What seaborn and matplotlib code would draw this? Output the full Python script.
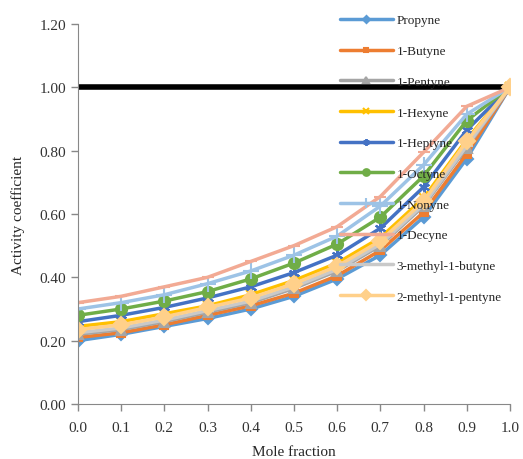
import pandas as pd
import matplotlib.pyplot as plt
import seaborn as sns

x = [0.0, 0.1, 0.2, 0.3, 0.4, 0.5, 0.6, 0.7, 0.8, 0.9, 1.0]
propyne = [0.20, 0.22, 0.245, 0.27, 0.30, 0.34, 0.395, 0.47, 0.59, 0.775, 1.0]
butyne = [0.21, 0.225, 0.25, 0.28, 0.31, 0.35, 0.405, 0.485, 0.605, 0.79, 1.0]
pentyne = [0.22, 0.235, 0.26, 0.29, 0.32, 0.365, 0.42, 0.50, 0.625, 0.81, 1.0]
hexyne = [0.245, 0.26, 0.285, 0.31, 0.345, 0.39, 0.445, 0.525, 0.65, 0.835, 1.0]
heptyne = [0.26, 0.28, 0.305, 0.335, 0.37, 0.415, 0.47, 0.555, 0.685, 0.865, 1.0]
octyne = [0.28, 0.30, 0.325, 0.355, 0.395, 0.445, 0.505, 0.59, 0.72, 0.895, 1.0]
nonyne = [0.30, 0.32, 0.345, 0.38, 0.42, 0.47, 0.53, 0.625, 0.755, 0.915, 1.0]
decyne = [0.32, 0.34, 0.37, 0.40, 0.45, 0.50, 0.56, 0.655, 0.795, 0.94, 1.0]
m3_butyne = [0.225, 0.24, 0.265, 0.295, 0.325, 0.37, 0.425, 0.505, 0.63, 0.815, 1.0]
m2_pentyne = [0.235, 0.25, 0.275, 0.305, 0.335, 0.38, 0.435, 0.515, 0.64, 0.83, 1.0]
ideal = [1.0] * 11

names = ['Propyne', '1-Butyne', '1-Pentyne', '1-Hexyne', '1-Heptyne', '1-Octyne',
         '1-Nonyne', '1-Decyne', '3-methyl-1-butyne', '2-methyl-1-pentyne']
values = [propyne, butyne, pentyne, hexyne, heptyne, octyne,
          nonyne, decyne, m3_butyne, m2_pentyne]
colors = ['#5B9BD5', '#ED7D31', '#A5A5A5', '#FFC000', '#4472C4', '#70AD47',
          '#9DC3E6', '#F2AA94', '#C9C9C9', '#FFD08A']
markers = ['D', 's', '^', 'x', (6, 2, 0), 'o', '+', '_', '_', 'D']
msizes = [6, 6, 7, 7, 8, 8, 11, 8, 8, 8]

sns.set_style('ticks')
plt.rcParams['font.family'] = ['Liberation Serif', 'DejaVu Serif']

fig = plt.figure(figsize=(5.23, 4.60), dpi=100)
ax = fig.add_axes([0.149, 0.1196, 0.826, 0.826])

sns.lineplot(x=x, y=ideal, color='black', lw=4, ax=ax, zorder=1)
for n, v, c, m, s in zip(names, values, colors, markers, msizes):
    df = pd.DataFrame({'x': x, 'y': v})
    sns.lineplot(data=df, x='x', y='y', color=c, marker=m, markersize=s,
                 markeredgecolor=c, markeredgewidth=1.5, lw=2.5, label=n, ax=ax)

ax.set_xlim(0, 1.0)
ax.set_ylim(0, 1.2)
ax.set_xticks([i / 10 for i in range(11)])
ax.set_yticks([0, 0.2, 0.4, 0.6, 0.8, 1.0, 1.2])
ax.set_xticklabels([f'{i / 10:.1f}' for i in range(11)])
ax.set_yticklabels([f'{v:.2f}' for v in [0, 0.2, 0.4, 0.6, 0.8, 1.0, 1.2]])
ax.tick_params(labelsize=11, color='#888888', length=5, width=1, colors='#333333')
ax.tick_params(axis='x', pad=7)
for sp in ['top', 'right']:
    ax.spines[sp].set_visible(False)
for sp in ['left', 'bottom']:
    ax.spines[sp].set_color('#888888')
ax.set_xlabel('Mole fraction', fontsize=11, labelpad=8)
ax.set_ylabel('Activity coefficient', fontsize=11, labelpad=10.5)

ax.get_legend().remove()
h, l = ax.get_legend_handles_labels()
fig.legend(h, l, loc='upper left', bbox_to_anchor=(0.650, 0.967), frameon=False,
           fontsize=9.5, handlelength=4, handletextpad=0.3, labelspacing=1.4,
           borderpad=0, borderaxespad=0, markerscale=0.6)

fig.savefig('out.png', dpi=100)
